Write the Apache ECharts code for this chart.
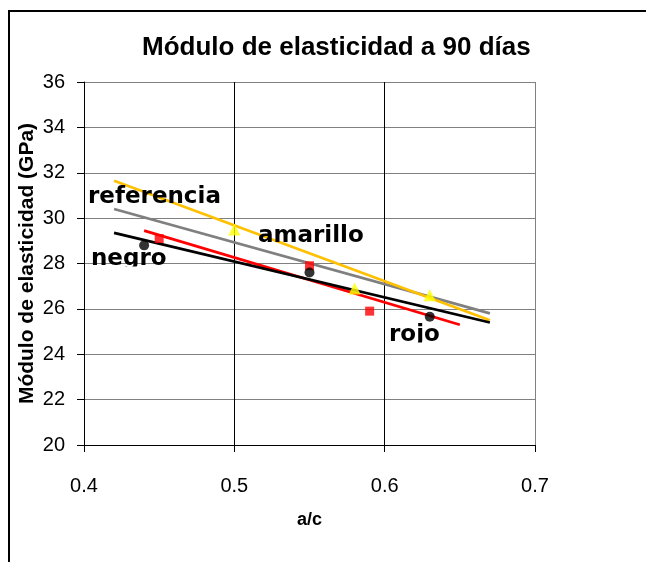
<!DOCTYPE html>
<html>
<head>
<meta charset="utf-8">
<script src="https://cdn.jsdelivr.net/npm/echarts@6/dist/echarts.min.js"></script>
<style>html,body{margin:0;padding:0;background:#fff}#c{width:646px;height:562px}</style>
</head>
<body>
<div id="c"></div>
<script>
// Trend lines (start and end)
const refLineX = [0.42, 0.67];
const refLineY = [30.4, 25.8];
const amaLineX = [0.42, 0.67];
const amaLineY = [31.65, 25.5];
const negLineX = [0.42, 0.67];
const negLineY = [29.35, 25.4];
const rojLineX = [0.44, 0.65];
const rojLineY = [29.45, 25.3];
// Measured points
const negPtsX = [0.44, 0.55, 0.63];
const negPtsY = [28.8, 27.6, 25.65];
const rojPtsX = [0.45, 0.55, 0.59];
const rojPtsY = [29.1, 27.9, 25.9];
const amaPtsX = [0.50, 0.58, 0.63];
const amaPtsY = [29.5, 26.9, 26.6];
const xTicks = [0.4, 0.5, 0.6, 0.7];
const yTicks = [20, 22, 24, 26, 28, 30, 32, 34, 36];

const zip = (xs, ys) => xs.map((x, i) => [x, ys[i]]);

const chart = echarts.init(document.getElementById('c'), null, {renderer: 'canvas'});
const lineSeries = (data, color) => ({
  type: 'line', data, symbol: 'none', lineStyle: {color, width: 2.7}, z: 3, animation: false
});
const ptSeries = (data, color, symbol, size) => ({
  type: 'scatter', data, symbol, symbolSize: size, itemStyle: {color}, z: 4, animation: false
});
const lbl = (text, x, y) => ({
  type: 'text', x, y, z: 20,
  style: {text, font: 'bold 23px "DejaVu Sans"', fill: '#000', verticalAlign: 'top'}
});
chart.setOption({
  animation: false,
  title: {
    text: 'Módulo de elasticidad a 90 días',
    left: 137, top: 30,
    textStyle: {fontFamily: 'Liberation Sans', fontWeight: 'bold', fontSize: 26, color: '#000'}
  },
  grid: {left: 84, top: 82, right: 111, bottom: 117},
  xAxis: {
    type: 'value', min: 0.4, max: 0.7, interval: 0.1,
    name: 'a/c', nameLocation: 'middle', nameGap: 66, nameMoveOverlap: false,
    nameTextStyle: {fontFamily: 'Liberation Sans', fontWeight: 'bold', fontSize: 18, color: '#000'},
    axisLine: {show: true, lineStyle: {color: '#000', width: 1}},
    axisTick: {show: true, length: 7, inside: false, lineStyle: {color: '#000'}},
    axisLabel: {fontFamily: 'Liberation Sans', fontSize: 20, color: '#000', margin: 31,
      formatter: v => xTicks.find(t => Math.abs(t - v) < 1e-6).toString()},
    splitLine: {show: true, lineStyle: {color: ['#000', '#000', '#000', '#808080'], width: 1}}
  },
  yAxis: {
    type: 'value', min: 20, max: 36, interval: 2,
    name: 'Módulo de elasticidad (GPa)', nameLocation: 'middle', nameGap: 46, nameMoveOverlap: false,
    nameTextStyle: {fontFamily: 'Liberation Sans', fontWeight: 'bold', fontSize: 21, color: '#000'},
    axisLine: {show: true, lineStyle: {color: '#000', width: 1}},
    axisTick: {show: true, length: 7, inside: false, lineStyle: {color: '#000'}},
    axisLabel: {fontFamily: 'Liberation Sans', fontSize: 20, color: '#000', margin: 19,
      formatter: v => yTicks.find(t => t === v).toString()},
    splitLine: {show: true, lineStyle: {color: '#808080', width: 1}}
  },
  series: [
    lineSeries(zip(refLineX, refLineY), '#808080'),
    lineSeries(zip(amaLineX, amaLineY), '#FFC000'),
    lineSeries(zip(rojLineX, rojLineY), '#FF0000'),
    lineSeries(zip(negLineX, negLineY), '#000000'),
    ptSeries(zip(amaPtsX, amaPtsY), '#FFFF00', 'triangle', 12),
    ptSeries(zip(rojPtsX, rojPtsY), '#FF0000', 'rect', 9),
    ptSeries(zip(negPtsX, negPtsY), '#000000', 'circle', 10)
  ],
  graphic: [
    {type: 'rect', shape: {x: 9, y: 11, width: 700, height: 700}, style: {fill: null, stroke: '#000', lineWidth: 2}, silent: true, z: 10},
    lbl('referencia', 88, 186),
    lbl('amarillo', 258, 225),
    lbl('negro', 91, 248),
    {type: 'rect', shape: {x: 88, y: 266.5, width: 110, height: 11}, style: {fill: '#fff'}, z: 21},
    lbl('rojo', 389, 324),
    {type: 'rect', shape: {x: 386, y: 342.5, width: 60, height: 10}, style: {fill: '#fff'}, z: 21}
  ]
});
</script>
</body>
</html>
